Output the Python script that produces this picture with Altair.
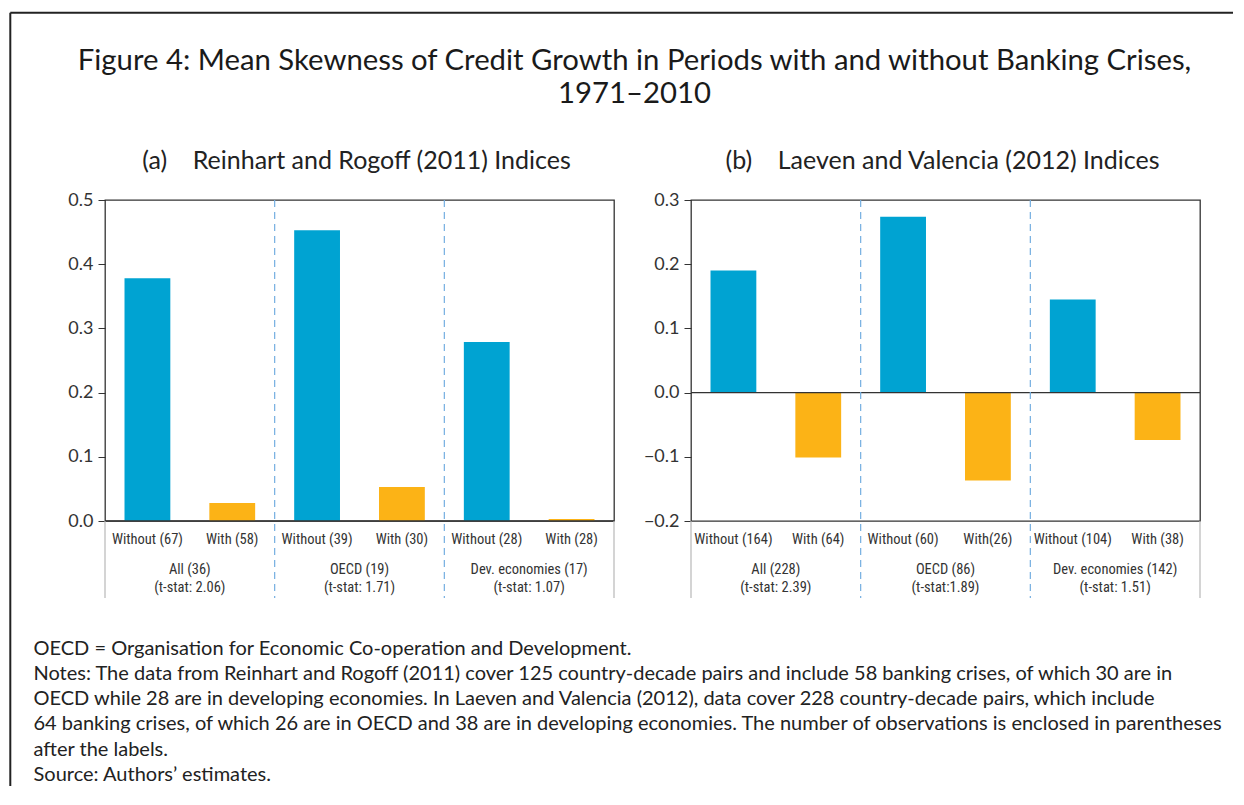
import altair as alt
import pandas as pd

# ---------------- data ----------------
TITLE_LINES = [
    "Figure 4: Mean Skewness of Credit Growth in Periods with and without Banking Crises,",
    "1971\u20132010",
]
SUB_A = "(a)\u00a0\u00a0\u00a0\u00a0Reinhart and Rogoff (2011) Indices"
SUB_B = "(b)\u00a0\u00a0\u00a0\u00a0Laeven and Valencia (2012) Indices"

groups = ["All", "OECD", "Dev"]
conds = ["Without", "With", "Without", "With", "Without", "With"]

a_labels = ["Without (67)", "With (58)", "Without (39)", "With (30)", "Without (28)", "With (28)"]
a_values = [0.378, 0.028, 0.453, 0.053, 0.279, 0.003]
a_group_names = ["All (36)", "OECD (19)", "Dev. economies (17)"]
a_tstats = ["(t-stat: 2.06)", "(t-stat: 1.71)", "(t-stat: 1.07)"]
a_ticks = [0.0, 0.1, 0.2, 0.3, 0.4, 0.5]

b_labels = ["Without (164)", "With (64)", "Without (60)", "With(26)", "Without (104)", "With (38)"]
b_values = [0.190, -0.101, 0.274, -0.137, 0.145, -0.074]
b_group_names = ["All (228)", "OECD (86)", "Dev. economies (142)"]
b_tstats = ["(t-stat: 2.39)", "(t-stat:1.89)", "(t-stat: 1.51)"]
b_ticks = [-0.2, -0.1, 0.0, 0.1, 0.2, 0.3]

NOTES = [
    "OECD = Organisation for Economic Co-operation and Development.",
    "Notes: The data from Reinhart and Rogoff (2011) cover 125 country-decade pairs and include 58 banking crises, of which 30 are in",
    "OECD while 28 are in developing economies. In Laeven and Valencia (2012), data cover 228 country-decade pairs, which include",
    "64 banking crises, of which 26 are in OECD and 38 are in developing economies. The number of observations is enclosed in parentheses",
    "after the labels.",
    "Source: Authors\u2019 estimates.",
]

# ---------------- style ----------------
BLUE = "#00a3d2"
ORANGE = "#fcb316"
DASH = "#74aee0"
DARK = "#333333"
TEXT = "#222222"
NARROW = "Liberation Sans Narrow, Roboto Condensed, DejaVu Sans Condensed, sans-serif"
MAIN = "Lato, Open Sans, sans-serif"
W, H = 509, 321
EXT = 398  # bottom of label area (px from plot top)
SMALL = 14.5


def panel(labels, values, gnames, tstats, ydomain, yticks, subtitle, extras=()):
    df = pd.DataFrame({"label": labels, "value": values, "cond": conds})
    gdf = pd.DataFrame({"group": groups, "name": gnames, "tstat": tstats})
    gscale = alt.Scale(domain=groups, paddingInner=0, paddingOuter=0)

    bars = alt.Chart(df).mark_bar().encode(
        x=alt.X(
            "label:N",
            sort=labels,
            scale=alt.Scale(domain=labels, paddingInner=0.46, paddingOuter=0.23),
            axis=alt.Axis(
                title=None, ticks=False, domain=False, labelAngle=0, labelPadding=11,
                labelFont=NARROW, labelFontSize=SMALL, labelColor=DARK,
            ),
        ),
        y=alt.Y(
            "value:Q",
            scale=alt.Scale(domain=ydomain, nice=False, zero=False),
            axis=alt.Axis(
                values=yticks, format=".1f", title=None, grid=False, domain=False,
                tickSize=7, tickColor=DARK, tickWidth=1, labelFont=MAIN, labelFontSize=18,
                labelColor=DARK, labelPadding=5,
            ),
        ),
        color=alt.Color("cond:N", scale=alt.Scale(domain=["Without", "With"], range=[BLUE, ORANGE]), legend=None),
    )

    zero = alt.Chart(pd.DataFrame({"z": [0.0]})).mark_rule(color=DARK, strokeWidth=1.3).encode(y="z:Q")

    seps = alt.Chart(gdf.iloc[1:]).mark_rule(color=DASH, strokeDash=[7, 5], strokeWidth=1.2).encode(
        x=alt.X("group:N", scale=gscale, bandPosition=0, axis=None),
        y=alt.value(0),
        y2=alt.value(EXT),
    )

    edge = pd.DataFrame({"k": [0]})
    left_ext = alt.Chart(edge).mark_rule(color="#b8b8b8", strokeWidth=1.2).encode(
        x=alt.value(0), y=alt.value(H), y2=alt.value(EXT))
    right_ext = alt.Chart(edge).mark_rule(color="#b8b8b8", strokeWidth=1.2).encode(
        x=alt.value(W), y=alt.value(H), y2=alt.value(EXT))

    gname = alt.Chart(gdf).mark_text(font=NARROW, fontSize=SMALL, color=DARK, baseline="middle").encode(
        x=alt.X("group:N", scale=gscale, axis=None), y=alt.value(369.7), text="name:N")
    gstat = alt.Chart(gdf).mark_text(font=NARROW, fontSize=SMALL, color=DARK, baseline="middle").encode(
        x=alt.X("group:N", scale=gscale, axis=None), y=alt.value(387.7), text="tstat:N")

    sub = alt.Chart(pd.DataFrame({"t": [subtitle]})).mark_text(
        font=MAIN, fontSize=25, color=TEXT, baseline="middle").encode(
        x=alt.value(W / 2 - 3), y=alt.value(-39.3), text="t:N")

    layers = [bars, zero, seps, left_ext, right_ext, gname, gstat, sub] + list(extras)
    return alt.layer(*layers).resolve_scale(x="independent").properties(width=W, height=H)


# figure furniture, drawn relative to panel (a)
one = pd.DataFrame({"k": [0]})
frame_top = alt.Chart(one).mark_rule(color=TEXT, strokeWidth=2).encode(
    x=alt.value(-94.7), x2=alt.value(1128), y=alt.value(-187.3))
frame_left = alt.Chart(one).mark_rule(color=TEXT, strokeWidth=2).encode(
    x=alt.value(-94.7), y=alt.value(-187.3), y2=alt.value(586))

title_df = pd.DataFrame({"t": TITLE_LINES, "i": [0, 1]})
title = alt.Chart(title_df).mark_text(font=MAIN, fontSize=29.3, color="#1a1a1a", baseline="middle").encode(
    x=alt.value(529.5), y=alt.value(-139.3), text="t:N",
).transform_filter("datum.i == 0")
title2 = alt.Chart(title_df).mark_text(font=MAIN, fontSize=29.3, color="#1a1a1a", baseline="middle").encode(
    x=alt.value(529.5), y=alt.value(-106.3), text="t:N",
).transform_filter("datum.i == 1")

note_layers = []
for i, line in enumerate(NOTES):
    note_layers.append(
        alt.Chart(pd.DataFrame({"t": [line]})).mark_text(
            font=MAIN, fontSize=20, color=TEXT, align="left", baseline="middle").encode(
            x=alt.value(-71.5), y=alt.value(448.7 + i * 25.2), text="t:N")
    )

pa = panel(a_labels, a_values, a_group_names, a_tstats, [0.0, 0.5], a_ticks, SUB_A,
           extras=[frame_top, frame_left, title, title2] + note_layers)
pb = panel(b_labels, b_values, b_group_names, b_tstats, [-0.2, 0.3], b_ticks, SUB_B)

chart = alt.hconcat(pa, pb, spacing=77, bounds="flush").properties(
    padding={"left": 0, "top": 3, "right": 0, "bottom": 0}
).configure_view(stroke=DARK, strokeWidth=1.3)

chart.save("out.html", embed_options={"renderer": "svg", "actions": False})
